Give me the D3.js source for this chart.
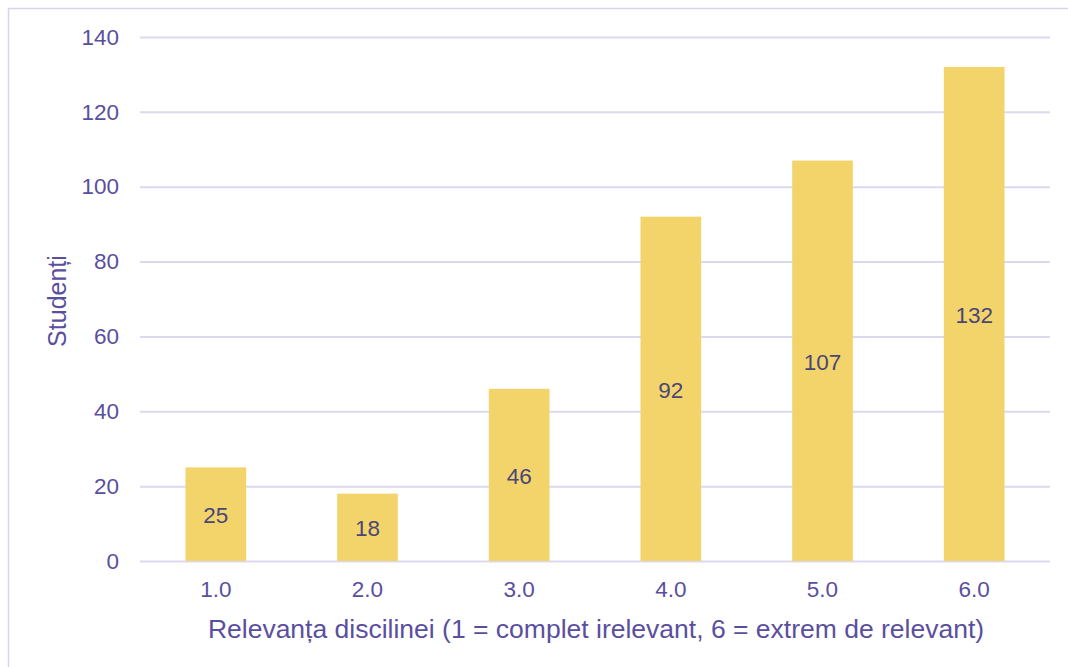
<!DOCTYPE html>
<meta charset="utf-8">
<style>
body { margin: 0; background: #fff; }
svg { display: block; font-family: "Liberation Sans", Arial, sans-serif; }
.grid line { stroke: #dcd9ee; stroke-width: 2; }
.grid .domain { display: none; }
.axis text { fill: #5a4f9e; font-size: 22.5px; }
.axis .domain, .axis line { display: none; }
.bar { fill: #f2d46b; }
.bar-label { fill: #4b4578; font-size: 22.5px; }
.title { fill: #5a4f9e; font-size: 26.5px; }
.ytitle { fill: #5a4f9e; font-size: 25px; }
</style>
<body>
<div id="chart"></div>
<script src="https://cdn.jsdelivr.net/npm/d3@7"></script>
<script>

// data
var categories = ["1.0", "2.0", "3.0", "4.0", "5.0", "6.0"];
var students = [25, 18, 46, 92, 107, 132];
var yTicks = [0, 20, 40, 60, 80, 100, 120, 140];

var width = 1068, height = 667;

var svg = d3.select("#chart").append("svg")
    .attr("width", width)
    .attr("height", height);

// frame
svg.append("rect")
    .attr("x", 8.5)
    .attr("y", 8.5)
    .attr("width", width + 20)
    .attr("height", height + 20)
    .attr("fill", "none")
    .attr("stroke", "#d8d4ec")
    .attr("stroke-width", 1.5);

var x = d3.scaleBand()
    .domain(categories)
    .range([140, 1050])
    .paddingInner(0.6)
    .paddingOuter(0.3);

var y = d3.scaleLinear()
    .domain([0, 140])
    .range([561, 37]);

// gridlines
svg.append("g")
    .attr("class", "grid")
    .attr("transform", "translate(140,0)")
    .call(d3.axisLeft(y).tickValues(yTicks).tickSize(-910).tickFormat(""));

// y axis labels
svg.append("g")
    .attr("class", "axis")
    .attr("transform", "translate(140,0)")
    .call(d3.axisLeft(y).tickValues(yTicks).tickSize(0).tickPadding(21));

// bars
svg.selectAll(".bar")
    .data(students)
    .enter().append("rect")
    .attr("class", "bar")
    .attr("x", function(d, i) { return x(categories[i]); })
    .attr("width", x.bandwidth())
    .attr("y", function(d) { return y(d); })
    .attr("height", function(d) { return y(0) - y(d); });

svg.selectAll(".bar-label")
    .data(students)
    .enter().append("text")
    .attr("class", "bar-label")
    .attr("text-anchor", "middle")
    .attr("dy", "0.36em")
    .attr("x", function(d, i) { return x(categories[i]) + x.bandwidth() / 2; })
    .attr("y", function(d) { return (y(d) + y(0)) / 2 + 1; })
    .text(function(d) { return d; });

// x axis labels
svg.append("g")
    .attr("class", "axis")
    .attr("transform", "translate(0,561)")
    .call(d3.axisBottom(x).tickSize(0).tickPadding(20));

// titles
svg.append("text")
    .attr("class", "title")
    .attr("text-anchor", "middle")
    .attr("x", 596)
    .attr("y", 638)
    .text("Relevanța discilinei (1 = complet irelevant, 6 = extrem de relevant)");

svg.append("text")
    .attr("class", "ytitle")
    .attr("text-anchor", "middle")
    .attr("transform", "translate(66,301) rotate(-90)")
    .text("Studenți");

</script>
</body>
